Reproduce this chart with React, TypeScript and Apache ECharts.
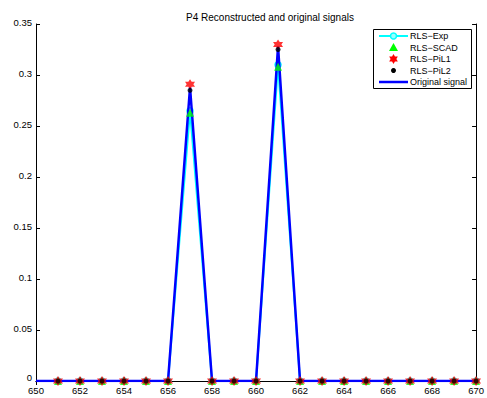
import React, { useEffect, useRef } from "react";
import * as echarts from "echarts";

// Sample positions (estimates start at 651, original signal at 650)
const estX = [651, 652, 653, 654, 655, 656, 657, 658, 659, 660, 661, 662, 663, 664, 665, 666, 667, 668, 669, 670];
const origX = [650, 651, 652, 653, 654, 655, 656, 657, 658, 659, 660, 661, 662, 663, 664, 665, 666, 667, 668, 669, 670];

const rlsExp = [0, 0, 0, 0, 0, 0, 0.265, 0, 0, 0, 0.31, 0, 0, 0, 0, 0, 0, 0, 0, 0];
const rlsScad = [0, 0, 0, 0, 0, 0, 0.263, 0, 0, 0, 0.308, 0, 0, 0, 0, 0, 0, 0, 0, 0];
const rlsPil1 = [0, 0, 0, 0, 0, 0, 0.291, 0, 0, 0, 0.33, 0, 0, 0, 0, 0, 0, 0, 0, 0];
const rlsPil2 = [0, 0, 0, 0, 0, 0, 0.285, 0, 0, 0, 0.325, 0, 0, 0, 0, 0, 0, 0, 0, 0];
const original = [0, 0, 0, 0, 0, 0, 0, 0.288, 0, 0, 0, 0.328, 0, 0, 0, 0, 0, 0, 0, 0, 0];

const yTicks = ["0", "0.05", "0.1", "0.15", "0.2", "0.25", "0.3", "0.35"];
const legendNames = ["RLS\u2212Exp", "RLS\u2212SCAD", "RLS\u2212PiL1", "RLS\u2212PiL2", "Original signal"];

const hexagram =
  "path://M0,-10L2.89,-5L8.66,-5L5.77,0L8.66,5L2.89,5L0,10L-2.89,5L-8.66,5L-5.77,0L-8.66,-5L-2.89,-5Z";

const pair = (xs: number[], ys: number[]) => xs.map((x, i) => [x, ys[i]]);

// six-pointed star outline centred on (cx, cy) with outer radius r
const starPoints = (cx: number, cy: number, r: number) => {
  const pts: number[][] = [];
  for (let k = 0; k < 12; k++) {
    const a = (Math.PI / 6) * k - Math.PI / 2;
    const rr = k % 2 === 0 ? r : r * 0.577;
    pts.push([cx + rr * Math.cos(a), cy + rr * Math.sin(a)]);
  }
  return pts;
};

const FONT = "Liberation Sans";

export default function App() {
  const ref = useRef<HTMLDivElement>(null);

  useEffect(() => {
    if (!ref.current) return;
    const chart = echarts.init(ref.current, null, { renderer: "svg" });
    const axisCommon = {
      type: "value" as const,
      axisLine: { show: true, lineStyle: { color: "#000", width: 1 } },
      axisTick: { show: true, inside: true, length: 4, lineStyle: { color: "#000" } },
      splitLine: { show: false },
    };

    // legend box drawn as graphics
    const lx0 = 379;
    const lx1 = 408;
    const lmx = (lx0 + lx1) / 2;
    const rowY = [36, 47.5, 59, 70.5, 82];
    const legendEls: any[] = [
      {
        type: "rect",
        shape: { x: 373.5, y: 29.5, width: 98, height: 59 },
        style: { fill: "#fff", stroke: "#000", lineWidth: 1 },
        z: 100,
      },
      {
        type: "line",
        shape: { x1: lx0, y1: rowY[0], x2: lx1, y2: rowY[0] },
        style: { stroke: "#0ff", lineWidth: 2 },
        z: 101,
      },
      {
        type: "circle",
        shape: { cx: lmx, cy: rowY[0], r: 3 },
        style: { fill: "#9ff", stroke: "#0ff", lineWidth: 1.5 },
        z: 102,
      },
      {
        type: "polygon",
        shape: { points: [[lmx, rowY[1] - 4.5], [lmx + 4.5, rowY[1] + 3.5], [lmx - 4.5, rowY[1] + 3.5]] },
        style: { fill: "#0f0" },
        z: 101,
      },
      {
        type: "polygon",
        shape: { points: starPoints(lmx, rowY[2], 5) },
        style: { fill: "#f00" },
        z: 101,
      },
      {
        type: "circle",
        shape: { cx: lmx, cy: rowY[3], r: 2.5 },
        style: { fill: "#000" },
        z: 101,
      },
      {
        type: "line",
        shape: { x1: lx0, y1: rowY[4], x2: lx1, y2: rowY[4] },
        style: { stroke: "#00f", lineWidth: 2.5 },
        z: 101,
      },
      ...legendNames.map((name, i) => ({
        type: "text",
        x: 410,
        y: rowY[i],
        style: {
          text: name,
          fill: "#000",
          font: `9px "${FONT}"`,
          textVerticalAlign: "middle",
          verticalAlign: "middle",
        },
        z: 101,
      })),
    ];

    chart.setOption({
      animation: false,
      backgroundColor: "#fff",
      textStyle: { fontFamily: FONT },
      title: {
        text: "P4 Reconstructed and original signals",
        left: 265,
        top: 7,
        textAlign: "center",
        textStyle: { fontSize: 10, fontWeight: "normal", color: "#000", fontFamily: FONT },
      },
      grid: { left: 36, right: 10, top: 24, bottom: 17, containLabel: false },
      xAxis: [
        {
          ...axisCommon,
          min: 650,
          max: 670,
          interval: 2,
          axisLabel: { fontSize: 9.5, lineHeight: 9, color: "#000", fontFamily: FONT, margin: 5 },
        },
        {
          ...axisCommon,
          position: "top",
          min: 650,
          max: 670,
          interval: 2,
          axisLabel: { show: false },
        },
      ],
      yAxis: [
        {
          ...axisCommon,
          min: 0,
          max: 0.35,
          interval: 0.05,
          axisLabel: {
            fontSize: 9.5,
            lineHeight: 9,
            color: "#000",
            fontFamily: FONT,
            margin: 4,
            padding: [0, 0, 3, 0],
            formatter: (v: number) => {
              const s = yTicks[Math.round(v / 0.05)] ?? "";
              return v === 0 ? `{z|${s}}` : s;
            },
            rich: { z: { fontSize: 9.5, lineHeight: 9, padding: [0, 0, 4, 0] } },
          },
        },
        {
          ...axisCommon,
          position: "right",
          min: 0,
          max: 0.35,
          interval: 0.05,
          axisLabel: { show: false },
        },
      ],
      graphic: legendEls,
      series: [
        {
          name: legendNames[0],
          type: "line",
          data: pair(estX, rlsExp),
          symbol: "circle",
          symbolSize: 6,
          showSymbol: true,
          itemStyle: { color: "#9ff", borderColor: "#0ff", borderWidth: 1.5 },
          lineStyle: { color: "#0ff", width: 2 },
          z: 2,
        },
        {
          name: legendNames[4],
          type: "line",
          data: pair(origX, original),
          symbol: "none",
          lineStyle: { color: "#00f", width: 2.5 },
          itemStyle: { color: "#00f" },
          z: 3,
        },
        {
          name: legendNames[1],
          type: "scatter",
          data: pair(estX, rlsScad),
          symbol: "triangle",
          symbolSize: 8,
          itemStyle: { color: "#0f0" },
          z: 4,
        },
        {
          name: legendNames[2],
          type: "scatter",
          data: pair(estX, rlsPil1),
          symbol: hexagram,
          symbolSize: 10,
          itemStyle: { color: "#f00" },
          z: 5,
        },
        {
          name: legendNames[3],
          type: "scatter",
          data: pair(estX, rlsPil2),
          symbol: "circle",
          symbolSize: 5,
          itemStyle: { color: "#000" },
          z: 6,
        },
      ],
    });
    return () => chart.dispose();
  }, []);

  return (
    <div
      ref={ref}
      style={{ position: "fixed", left: 0, top: 0, width: 487, height: 398 }}
    />
  );
}
